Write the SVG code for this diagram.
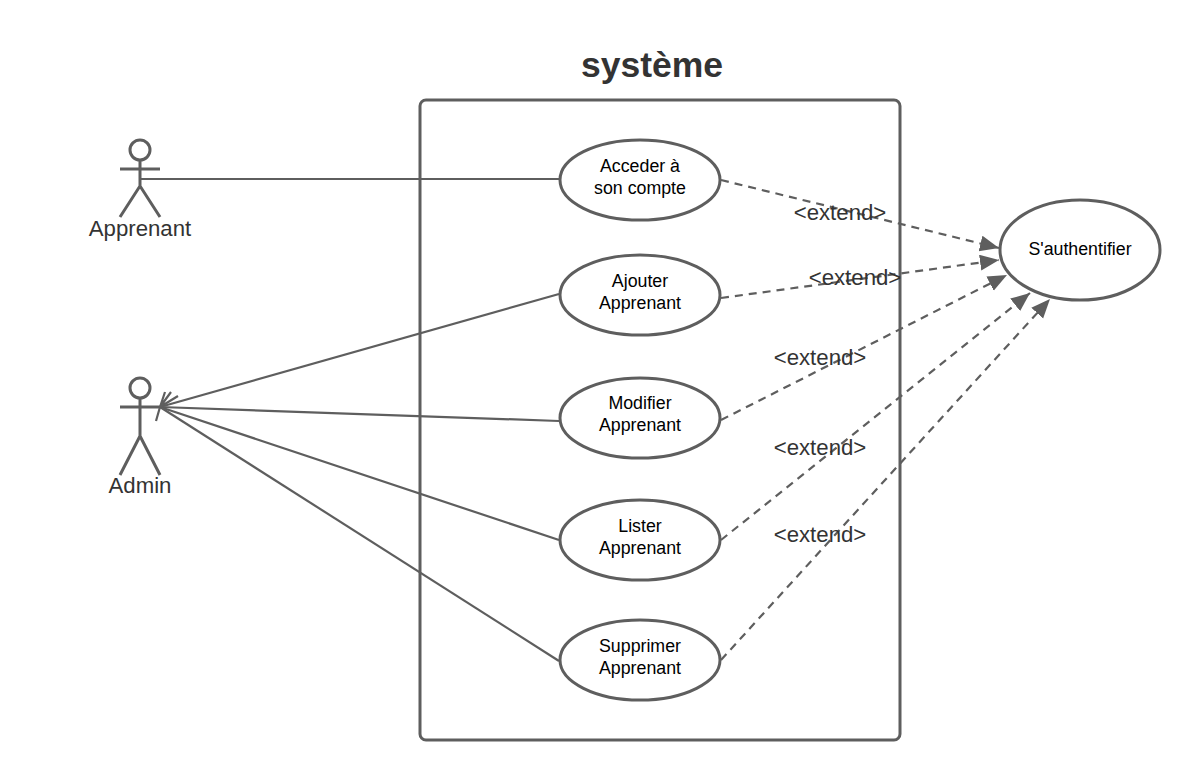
<svg xmlns="http://www.w3.org/2000/svg" width="1200" height="780" viewBox="0 0 1200 780">
<style>
text{font-family:"Liberation Sans",Arial,sans-serif;text-anchor:middle}
.uc{fill:#fff;stroke:#5e5e5e;stroke-width:3}
.ut{font-size:17.78px;fill:#000}
.act{fill:none;stroke:#5e5e5e;stroke-width:3}
.al{font-size:22.2px;fill:#333}
.line{fill:none;stroke:#5e5e5e;stroke-width:2.2}
.dash{fill:none;stroke:#5e5e5e;stroke-width:2.2;stroke-dasharray:8 6;marker-end:url(#tri)}
.ext{font-size:22.2px;fill:#333}
</style>
<defs>
<marker id="tri" markerUnits="userSpaceOnUse" markerWidth="22" markerHeight="18" refX="19" refY="8" orient="auto"><path d="M0 0L19 8L0 16z" fill="#5e5e5e" stroke="none"/></marker>
</defs>
<text id="title" x="652" y="77" font-size="35.5" font-weight="700" fill="#333">système</text>
<rect id="system" x="420" y="100" width="480" height="640" rx="6" fill="none" stroke="#5e5e5e" stroke-width="3"/>
<g id="connectors">
<path class="line" d="M141 179H560"/>
<path class="line" d="M559 294L160 407"/>
<path class="line" d="M559 421L160 407"/>
<path class="line" d="M559 540L160 407"/>
<path class="line" d="M559 661L160 407"/>
<path class="line" d="M160 407L165 392M160 407L171 392M160 407L178 396M160 407L156 421"/>
<path class="dash" d="M721 180L999 248"/>
<path class="dash" d="M721 298L999 260"/>
<path class="dash" d="M721 420L1007 275"/>
<path class="dash" d="M721 540L1030 293"/>
<path class="dash" d="M721 660L1050 299"/>
</g>
<g id="actor-apprenant">
<circle class="act" cx="140" cy="150" r="10"/>
<path class="act" d="M140 160V186M120 169H160M140 186L120 217M140 186L160 217"/>
<text class="al" x="140" y="236">Apprenant</text>
</g>
<g id="actor-admin">
<circle class="act" cx="140" cy="388" r="10"/>
<path class="act" d="M140 398V436M120 407H160M140 436L120 475M140 436L160 475"/>
<text class="al" x="140" y="493">Admin</text>
</g>
<g id="uc-acceder"><ellipse class="uc" cx="640" cy="180" rx="80" ry="40"/><text class="ut" x="640" y="172">Acceder à</text><text class="ut" x="640" y="193.7">son compte</text></g>
<g id="uc-ajouter"><ellipse class="uc" cx="640" cy="295" rx="80" ry="40"/><text class="ut" x="640" y="287">Ajouter</text><text class="ut" x="640" y="308.7">Apprenant</text></g>
<g id="uc-modifier"><ellipse class="uc" cx="640" cy="418" rx="80" ry="40"/><text class="ut" x="640" y="409">Modifier</text><text class="ut" x="640" y="430.7">Apprenant</text></g>
<g id="uc-lister"><ellipse class="uc" cx="640" cy="540" rx="80" ry="40"/><text class="ut" x="640" y="532">Lister</text><text class="ut" x="640" y="553.7">Apprenant</text></g>
<g id="uc-supprimer"><ellipse class="uc" cx="640" cy="660" rx="80" ry="40"/><text class="ut" x="640" y="652">Supprimer</text><text class="ut" x="640" y="673.7">Apprenant</text></g>
<g id="uc-auth"><ellipse class="uc" cx="1080" cy="250" rx="80" ry="50"/><text class="ut" x="1080" y="255">S'authentifier</text></g>
<g id="labels">
<text class="ext" x="840" y="220">&lt;extend&gt;</text>
<text class="ext" x="855" y="285">&lt;extend&gt;</text>
<text class="ext" x="820" y="365">&lt;extend&gt;</text>
<text class="ext" x="820" y="455">&lt;extend&gt;</text>
<text class="ext" x="820" y="542">&lt;extend&gt;</text>
</g>
</svg>
